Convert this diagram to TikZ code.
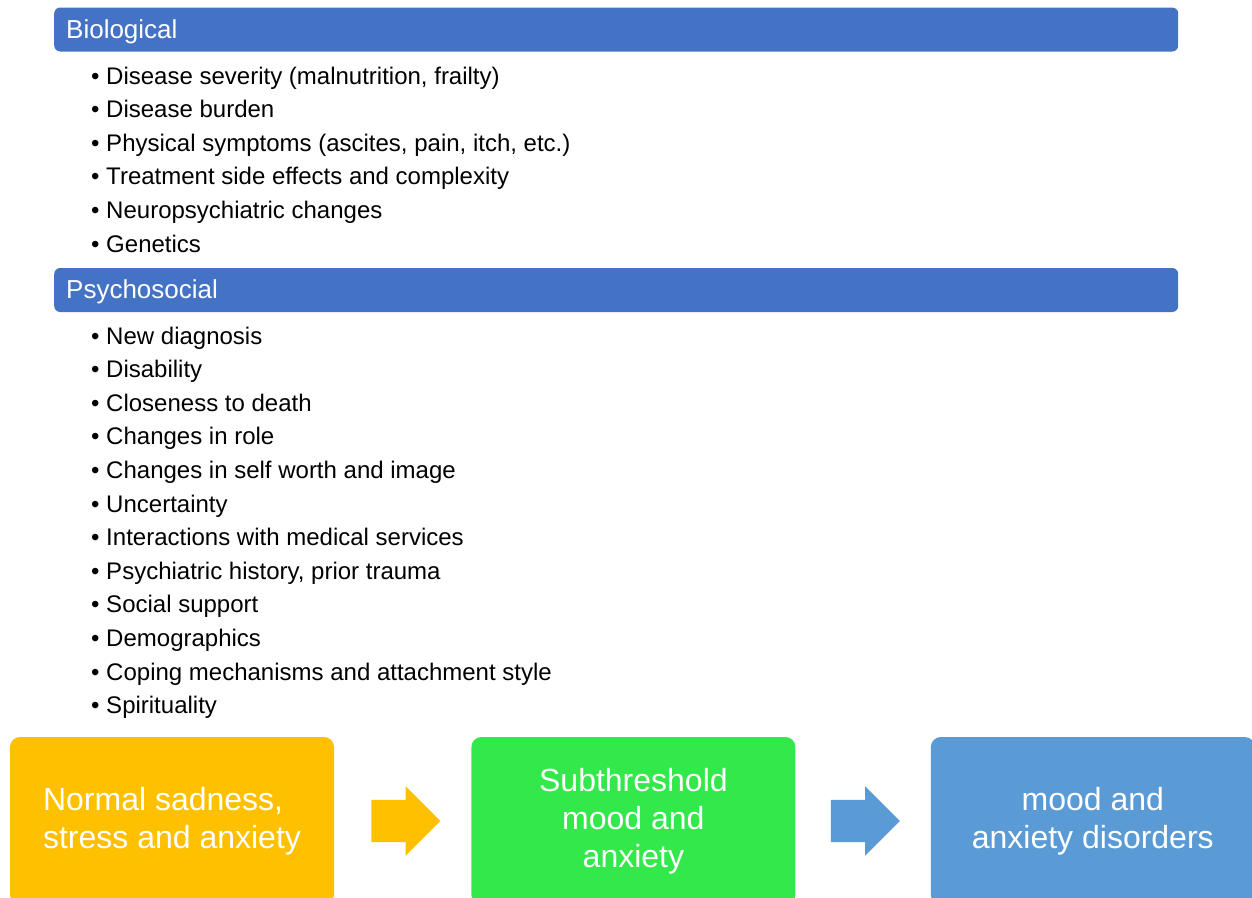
\documentclass[tikz,border=0pt]{standalone}
\usepackage{fontspec}
\setmainfont{Liberation Sans}
\usetikzlibrary{shapes.arrows,positioning}

\definecolor{barblue}{HTML}{4472C4}
\definecolor{stageyellow}{HTML}{FFC000}
\definecolor{stagegreen}{HTML}{33E84A}
\definecolor{stageblue}{HTML}{5B9BD5}

\begin{document}
\begin{tikzpicture}[x=1pt,y=-1pt,inner sep=0pt]
  \tikzstyle{header}=[rectangle,rounded corners=6pt,fill=barblue,text=white,anchor=west,
                      text width=1100pt,inner xsep=12pt,minimum height=44pt,
                      text height=22pt,text depth=5pt,font=\fontsize{26}{30}\selectfont]
  \tikzstyle{item}=[anchor=base west,font=\fontsize{24}{28}\selectfont]
  \tikzstyle{stage}=[rectangle,rounded corners=10pt,text=white,minimum width=324pt,
                     minimum height=168pt,font=\fontsize{32}{38}\selectfont]
  \tikzstyle{flowarrow}=[single arrow,single arrow head extend=13.5pt,minimum height=69pt,
                         minimum width=68pt,inner xsep=0pt,inner ysep=21pt]

  \useasboundingbox (0,0) rectangle (1252,897);
  \clip (0,0) rectangle (1252,897);

  % factor groups
  \node[header] (bio) at (54,29.5) {Biological};
  \foreach \txt [count=\i from 0] in {{Disease severity (malnutrition, frailty)},Disease burden,
      {Physical symptoms (ascites, pain, itch, etc.)},Treatment side effects and complexity,
      Neuropsychiatric changes,Genetics}
    \node[item] (bio\i) at (91,84+33.6*\i) {• \txt};

  \node[header] (psy) at (54,290) {Psychosocial};
  \foreach \txt [count=\i from 0] in {New diagnosis,Disability,Closeness to death,Changes in role,
      Changes in self worth and image,Uncertainty,Interactions with medical services,
      {Psychiatric history, prior trauma},Social support,Demographics,
      Coping mechanisms and attachment style,Spirituality}
    \node[item] (psy\i) at (91,344+33.6*\i) {• \txt};

  % continuum
  \node[stage,fill=stageyellow,align=left] (normal) at (172,821) {Normal sadness,\\stress and anxiety};
  \node[stage,fill=stagegreen,align=center] (subthr) [right=137pt of normal] {Subthreshold\\mood and\\anxiety};
  \node[stage,fill=stageblue,align=center] (disorder) [right=135pt of subthr] {mood and\\anxiety disorders};

  \node[flowarrow,fill=stageyellow] (arr1) [right=37pt of normal] {};
  \node[flowarrow,fill=stageblue] (arr2) [right=35pt of subthr] {};

\end{tikzpicture}
\end{document}
